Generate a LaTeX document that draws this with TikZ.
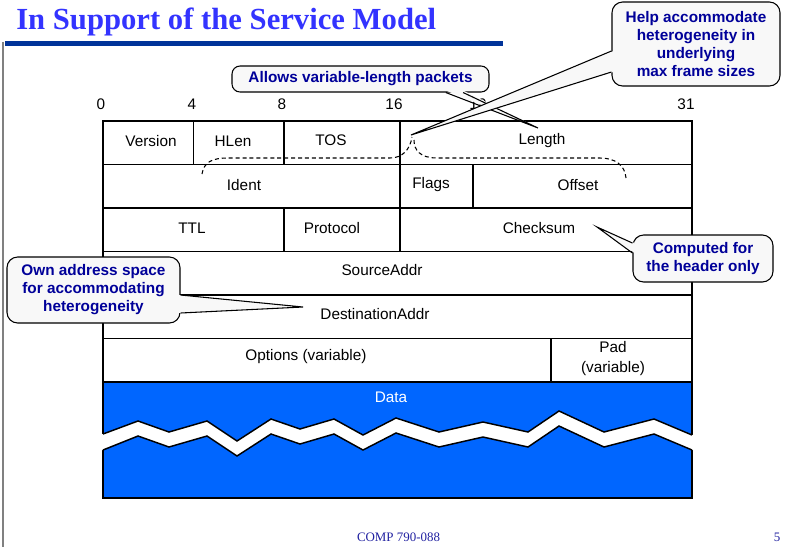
\documentclass[tikz,border=0pt]{standalone}
\usepackage{fontspec}
\setmainfont{Liberation Serif}
\setsansfont{Liberation Sans}
\usetikzlibrary{positioning}
\definecolor{titleblue}{RGB}{51,51,255}
\definecolor{rulerblue}{RGB}{0,51,153}
\definecolor{footblue}{RGB}{32,32,160}
\definecolor{calltext}{RGB}{0,0,153}
\definecolor{callfill}{RGB}{248,248,248}
\definecolor{datablue}{RGB}{0,102,255}
\tikzset{
    field/.style = {rectangle, draw=black, line width=1pt, minimum width=#1*0.75pt, minimum height=32.6pt, inner sep=0pt},
    ftext/.style = {inner sep=1pt, align=center, font=\sffamily\fontsize{11.5}{15}\selectfont},
    bitnum/.style = {font=\sffamily\fontsize{11.5}{13}\selectfont},
    datablock/.style = {rectangle, draw=black, line width=1.3pt, fill=datablue, minimum width=441.75pt, minimum height=87pt, inner sep=0pt},
    callout/.style = {rectangle, rounded corners=8pt, draw=black, line width=0.8pt, fill=callfill, text=calltext, align=center, inner sep=0pt, font=\sffamily\bfseries\fontsize{11.5}{13.5}\selectfont},
    wedge/.style = {draw=black, line width=0.8pt},
    brace/.style = {draw=black, line width=0.8pt, dash pattern=on 3pt off 2.2pt},
    zigline/.style = {draw=black, line width=1.1pt, line join=miter}
}
\begin{document}
\begin{tikzpicture}[x=0.75pt,y=-0.75pt]
\useasboundingbox (0,0) rectangle (795,547);
%
% slide frame
\node[anchor=base west, text=titleblue, font=\bfseries\fontsize{23}{26}\selectfont, inner sep=0pt] (title) at (16,29) {In Support of the Service Model};
\draw[rulerblue, line width=3.4pt] (5,43.5) -- (503,43.5);
\draw[gray, line width=1.2pt] (3,42) -- (3,547);
\node[anchor=base, text=footblue, font=\fontsize{9.7}{11}\selectfont, inner sep=0pt] (foot) at (398.5,541) {COMP 790-088};
\node[anchor=base, text=footblue, font=\fontsize{9.7}{11}\selectfont, inner sep=0pt] (page) at (777,541) {5};
%
% bit positions
\foreach \b/\x in {0/101,4/192,8/282,16/394,19/478,31/686}
    \node[bitnum] (b\b) at (\x,104) {\b};
%
% header fields
\node[field=90.5] at (148.25,142.75) (version) {};
\node[field=90.5] at (238.75,142.75) (hlen) {};
\node[field=116] at (342,142.75) (tos) {};
\node[field=292] at (546,142.75) (length) {};
\node[field=297] at (251.5,186.25) (ident) {};
\node[field=73] at (436.5,186.25) (flags) {};
\node[field=219] at (582.5,186.25) (offset) {};
\node[field=181] at (193.5,229.75) (ttl) {};
\node[field=116] at (342,229.75) (protocol) {};
\node[field=292] at (546,229.75) (checksum) {};
\node[field=589] at (397.5,273.25) (srcaddr) {};
\node[field=589] at (397.5,316.75) (dstaddr) {};
\node[field=448] at (327,360.25) (options) {};
\node[field=141] at (621.5,360.25) (pad) {};
%
\node[ftext] at (151,141) (versiontxt) {Version};
\node[ftext] at (233,141) (hlentxt) {HLen};
\node[ftext] at (331,140) (tostxt) {TOS};
\node[ftext] at (542,141) (lengthtxt) {Length};
\node[ftext] at (244,185) (identtxt) {Ident};
\node[ftext] at (431,185) (flagstxt) {Flags};
\node[ftext] at (578,185) (offsettxt) {Offset};
\node[ftext] at (192,228) (ttltxt) {TTL};
\node[ftext] at (332,228) (protocoltxt) {Protocol};
\node[ftext] at (539,228) (checksumtxt) {Checksum};
\node[ftext] at (382,270) (srcaddrtxt) {SourceAddr};
\node[ftext] at (375,314) (dstaddrtxt) {DestinationAddr};
\node[ftext] at (306,357) (optionstxt) {Options (variable)};
\node[ftext] at (613,359) (padtxt) {Pad\\(variable)};
%
% data
\node[datablock] at (397.5,440) (data) {};
\node[text=white, font=\sffamily\fontsize{11.5}{13}\selectfont] at (391,397) (datatext) {Data};
\fill[white] (100,435) -- (138,421) -- (169,432) -- (207,421) -- (237,441) -- (271,419) -- (300,429) -- (334,419) -- (363,435) -- (396,418) -- (439,432) -- (483,422) -- (528,432) -- (559,411) -- (604,432) -- (654,419) -- (695,436)
    -- (695,451) -- (654,434) -- (604,447) -- (559,426) -- (528,447) -- (483,437) -- (439,447) -- (396,433) -- (363,450) -- (334,434) -- (300,444) -- (271,434) -- (237,456) -- (207,436) -- (169,447) -- (138,436) -- (100,451) -- cycle;
\draw[zigline] (103,434) -- (138,421) -- (169,432) -- (207,421) -- (237,441) -- (271,419) -- (300,429) -- (334,419) -- (363,435) -- (396,418) -- (439,432) -- (483,422) -- (528,432) -- (559,411) -- (604,432) -- (654,419) -- (692,435);
\draw[zigline] (103,450) -- (138,436) -- (169,447) -- (207,436) -- (237,456) -- (271,434) -- (300,444) -- (334,434) -- (363,450) -- (396,433) -- (439,447) -- (483,437) -- (528,447) -- (559,426) -- (604,447) -- (654,434) -- (692,450);
%
% brace over Ident / Flags / Offset
\draw[brace] (202,174) .. controls (204,162) and (212,158) .. (228,158) -- (390,158) .. controls (402,158) and (410,150) .. (412,137);
\draw[brace] (414,140) .. controls (414,150) and (420,158) .. (437,158) -- (600,158) .. controls (615,158) and (625,165) .. (626,178);
%
% callouts
\coordinate (lentip) at (538,128);
\coordinate (fragtip) at (411,135);
\coordinate (cksumtip) at (597,227);
\coordinate (addrtip) at (303,307);
%
\node[callout, rounded corners=6pt, minimum width=192.75pt, minimum height=19.5pt] at (360.5,79) (allows) {Allows variable-length packets};
\fill[callfill] ([xshift=64pt,yshift=1.5pt]allows.south) -- (lentip) -- ([xshift=77pt,yshift=1.5pt]allows.south) -- cycle;
\draw[wedge] ([xshift=64pt]allows.south) -- (lentip) -- ([xshift=77pt]allows.south);
%
\node[callout, minimum width=105pt, minimum height=35.25pt] at (703,258.5) (computed) {Computed for\\the header only};
\fill[callfill] ([xshift=1.5pt,yshift=11.6pt]computed.west) -- (cksumtip) -- ([xshift=1.5pt,yshift=4.1pt]computed.west) -- cycle;
\draw[wedge] ([yshift=11.6pt]computed.west) -- (cksumtip) -- ([yshift=4.1pt]computed.west);
%
\node[callout, minimum width=129.75pt, minimum height=49.5pt] at (93.5,290) (ownaddr) {Own address space\\for accommodating\\heterogeneity};
\fill[callfill] ([xshift=-1.5pt,yshift=-3.75pt]ownaddr.east) -- (addrtip) -- ([xshift=-1.5pt,yshift=-17.25pt]ownaddr.east) -- cycle;
\draw[wedge] ([yshift=-3.75pt]ownaddr.east) -- (addrtip) -- ([yshift=-17.25pt]ownaddr.east);
%
\node[callout, minimum width=126pt, minimum height=63pt] at (696,44) (hetero) {Help accommodate\\heterogeneity in\\underlying\\max frame sizes};
\fill[callfill] ([xshift=1.5pt,yshift=-5.25pt]hetero.west) -- (fragtip) -- ([xshift=1.5pt,yshift=-21pt]hetero.west) -- cycle;
\draw[wedge] ([yshift=-5.25pt]hetero.west) -- (fragtip) -- ([yshift=-21pt]hetero.west);
\end{tikzpicture}
\end{document}
